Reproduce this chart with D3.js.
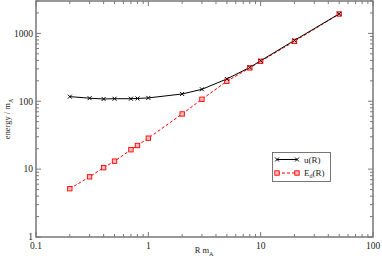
<!DOCTYPE html>
<html><head><meta charset="utf-8">
<script src="https://cdn.jsdelivr.net/npm/d3@7"></script>
<style>body{margin:0;background:#fff}svg{display:block}</style>
</head><body>
<script>
const R = [0.2, 0.3, 0.4, 0.5, 0.7, 0.8, 1, 2, 3, 5, 8, 10, 20, 50];
const uVals = [117, 111, 108, 109, 109, 110, 112, 128, 150, 213, 315, 395, 790, 1940];
const edVals = [5.15, 7.7, 10.5, 13.1, 19.3, 22.3, 28.6, 65, 107, 197, 310, 388, 763, 1930];
const xTicks = [0.1, 1, 10, 100];
const yTicks = [1, 10, 100, 1000];
const seriesNames = ["u(R)", "E_d(R)"];

const W = 382, H = 261;
const m = {l: 36, r: 9, t: 1, b: 24};
const svg = d3.select("body").append("svg").attr("width", W).attr("height", H);
const x = d3.scaleLog().domain([0.1, 100]).range([m.l, W - m.r]);
const y = d3.scaleLog().domain([1, 3000]).range([H - m.b, m.t]);
const font = "'Liberation Serif', 'Times New Roman', serif";
const axisCol = "#777";

// minor tick values
function minors(lo, hi) {
  const out = [];
  for (let d = lo; d < hi; d *= 10) for (let k = 2; k <= 9; k++) if (d * k <= hi) out.push(d * k);
  return out;
}
const xMin = minors(0.1, 100), yMin = minors(1, 3000);

const g = svg.append("g");
// frame
g.append("rect").attr("x", m.l).attr("y", m.t).attr("width", W - m.r - m.l).attr("height", H - m.b - m.t)
  .attr("fill", "none").attr("stroke", axisCol).attr("stroke-width", 1.5);

// ticks (inward) on all sides
const x0 = m.l, x1 = W - m.r, y0 = H - m.b, y1 = m.t;
xTicks.forEach(v => {
  [[y0, -5], [y1, 5]].forEach(([yy, d]) => g.append("line").attr("x1", x(v)).attr("x2", x(v)).attr("y1", yy).attr("y2", yy + d).attr("stroke", axisCol));
});
xMin.forEach(v => {
  [[y0, -3], [y1, 3]].forEach(([yy, d]) => g.append("line").attr("x1", x(v)).attr("x2", x(v)).attr("y1", yy).attr("y2", yy + d).attr("stroke", axisCol));
});
yTicks.forEach(v => {
  [[x0, 5], [x1, -5]].forEach(([xx, d]) => g.append("line").attr("y1", y(v)).attr("y2", y(v)).attr("x1", xx).attr("x2", xx + d).attr("stroke", axisCol));
});
yMin.forEach(v => {
  [[x0, 3], [x1, -3]].forEach(([xx, d]) => g.append("line").attr("y1", y(v)).attr("y2", y(v)).attr("x1", xx).attr("x2", xx + d).attr("stroke", axisCol));
});

// tick labels
xTicks.forEach(v => g.append("text").attr("x", x(v)).attr("y", y0 + 12).attr("text-anchor", "middle")
  .attr("font-family", font).attr("font-size", 9.5).attr("fill", "#222").text(String(v)));
yTicks.forEach(v => g.append("text").attr("x", x0 - 3).attr("y", y(v) + 3.3).attr("text-anchor", "end")
  .attr("font-family", font).attr("font-size", 9.5).attr("fill", "#222").text(String(v)));

// axis titles
const xt = g.append("text").attr("x", 204).attr("y", 253).attr("text-anchor", "middle")
  .attr("font-family", font).attr("font-size", 8.5).attr("fill", "#222");
xt.append("tspan").text("R m");
xt.append("tspan").attr("font-size", 6).attr("dy", 2.5).text("A");
const yt = g.append("text").attr("transform", "translate(10,119) rotate(-90)").attr("text-anchor", "middle")
  .attr("font-family", font).attr("font-size", 8.5).attr("fill", "#222");
yt.append("tspan").text("energy / m");
yt.append("tspan").attr("font-size", 6).attr("dy", 2.5).text("A");

// series
const line = d3.line().x(d => x(d[0])).y(d => y(d[1]));
const uData = R.map((r, i) => [r, uVals[i]]);
const eData = R.map((r, i) => [r, edVals[i]]);

g.append("path").datum(eData).attr("d", line).attr("fill", "none").attr("stroke", "#f00").attr("stroke-width", 1).attr("stroke-dasharray", "3,2");
g.append("path").datum(uData).attr("d", line).attr("fill", "none").attr("stroke", "#000").attr("stroke-width", 1);

function sq(sel, cx, cy) {
  sel.append("rect").attr("x", cx - 2.2).attr("y", cy - 2.2).attr("width", 4.4).attr("height", 4.4)
    .attr("fill", "#fbb").attr("stroke", "#f00").attr("stroke-width", 0.9);
}
function cross(sel, cx, cy) {
  const s = 2;
  sel.append("path").attr("d", `M${cx - s},${cy - s}L${cx + s},${cy + s}M${cx - s},${cy + s}L${cx + s},${cy - s}`)
    .attr("stroke", "#000").attr("stroke-width", 1);
}
eData.forEach(d => sq(g, x(d[0]), y(d[1])));
uData.forEach(d => cross(g, x(d[0]), y(d[1])));

// legend
const lg = g.append("g");
lg.append("rect").attr("x", 272.5).attr("y", 152.5).attr("width", 58).attr("height", 29).attr("fill", "#fff").attr("stroke", "#555").attr("stroke-width", 0.8);
lg.append("line").attr("x1", 277).attr("x2", 297).attr("y1", 159.5).attr("y2", 159.5).attr("stroke", "#000");
cross(lg, 277, 159.5); cross(lg, 297, 159.5);
lg.append("line").attr("x1", 277).attr("x2", 297).attr("y1", 173).attr("y2", 173).attr("stroke", "#f00").attr("stroke-dasharray", "3,2");
sq(lg, 277, 173); sq(lg, 297, 173);
lg.append("text").attr("x", 304).attr("y", 162.5).attr("font-family", font).attr("font-size", 9).attr("fill", "#222").text(seriesNames[0]);
const et = lg.append("text").attr("x", 304).attr("y", 176).attr("font-family", font).attr("font-size", 9).attr("fill", "#222");
et.append("tspan").text("E");
et.append("tspan").attr("font-size", 6).attr("dy", 2).text("d");
et.append("tspan").attr("dy", -2).text("(R)");
</script>
</body></html>
